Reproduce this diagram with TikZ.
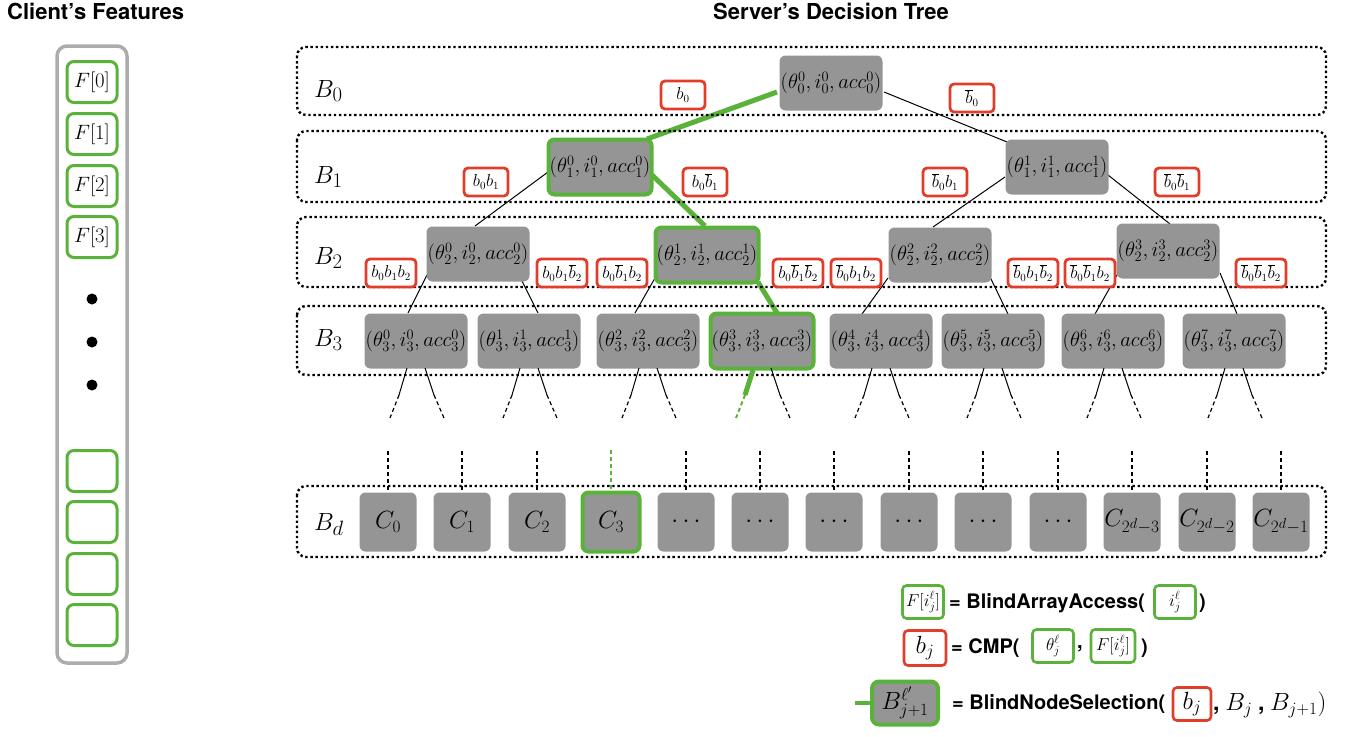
\documentclass[tikz,border=0pt]{standalone}
\usepackage[no-math]{fontspec}
\setmainfont{Liberation Serif}
\newfontfamily\hel{TeX Gyre Heros}
\usetikzlibrary{calc,backgrounds}
\definecolor{grn}{RGB}{91,178,59}
\definecolor{rd}{RGB}{224,62,42}
\definecolor{ngray}{RGB}{149,149,149}
\definecolor{cgray}{RGB}{172,172,172}
\newcommand{\fsz}[1]{\fontsize{#1}{#1}\selectfont}
\begin{document}
\begin{tikzpicture}[x=1pt,y=-1pt,
  tn/.style={fill=ngray, rounded corners=6, minimum width=103, minimum height=55, inner sep=0pt, font=\fsz{21.5}},
  sel/.style={draw=grn, line width=4pt},
  lab/.style={draw=rd, line width=2.8pt, fill=white, rounded corners=4, minimum width=44, minimum height=28, inner sep=1pt, font=\fsz{16}},
  labw/.style={lab, minimum width=50},
  band/.style={line width=2.4pt, dash pattern=on 2.4pt off 2.7pt, rounded corners=9},
  gpath/.style={draw=grn, line width=5pt},
  tline/.style={line width=1pt},
  dsh/.style={dash pattern=on 4pt off 3pt, line width=1.2pt},
  cn/.style={fill=ngray, rounded corners=6, minimum width=57, minimum height=59, inner sep=0pt, font=\fsz{27}},
  fbox/.style={draw=grn, line width=3pt, rounded corners=7, minimum width=50, minimum height=41, inner sep=0pt, font=\fsz{21}, fill=white},
  lbl/.style={anchor=base west, inner sep=0pt, font=\fsz{29}},
  ttl/.style={font=\hel\bfseries\fsz{22}, inner sep=0pt},
  leg/.style={font=\hel\bfseries\fsz{20}, anchor=west, inner sep=0pt},
  lgb/.style={draw=grn, line width=2.6pt, rounded corners=4, minimum width=41, minimum height=33, inner sep=0pt, font=\fsz{17.5}},
  lrb/.style={draw=rd, line width=2.6pt, rounded corners=4, minimum width=42, minimum height=35, inner sep=0pt, font=\fsz{23}},
  dotn/.style={circle, fill=black, minimum size=11, inner sep=0pt}
]
\useasboundingbox (0,0) rectangle (1346,736);

% titles
\node[ttl, anchor=west] (t1) at (7,11) {Client’s Features};
\node[ttl] (t2) at (831,11) {Server’s Decision Tree};

% client column
\draw[cgray, line width=3.5pt, rounded corners=10] (57,46) rectangle (127,663);
\node[fbox] (F0) at (92,82) {$F[0]$};
\node[fbox] (F1) at (92,134) {$F[1]$};
\node[fbox] (F2) at (92,186) {$F[2]$};
\node[fbox] (F3) at (92,237) {$F[3]$};
\node[dotn] (d1) at (92,299) {};
\node[dotn] (d2) at (92,342) {};
\node[dotn] (d3) at (92,385) {};
\node[fbox] (E0) at (92,471) {};
\node[fbox] (E1) at (92,522) {};
\node[fbox] (E2) at (92,574) {};
\node[fbox] (E3) at (92,625) {};

% bands
\draw[band] (297,47) rectangle (1326,115);
\draw[band] (297,131) rectangle (1326,202);
\draw[band] (297,217) rectangle (1326,287);
\draw[band] (297,306) rectangle (1326,375);
\draw[band] (297,486) rectangle (1326,557);
\node[lbl] (lB0) at (314,97) {$B_0$};
\node[lbl] (lB1) at (314,183) {$B_1$};
\node[lbl] (lB2) at (314,264) {$B_2$};
\node[lbl] (lB3) at (314,346) {$B_3$};
\node[lbl] (lBd) at (314,530) {$B_d$};

% tree nodes
\node[tn] (L0) at (831,83) {$(\theta_0^0, i_0^0, acc_0^0)$};
\node[tn,sel] (L10) at (600,167) {$(\theta_1^0, i_1^0, acc_1^0)$};
\node[tn] (L11) at (1057,167) {$(\theta_1^1, i_1^1, acc_1^1)$};
\node[tn] (L20) at (478,254) {$(\theta_2^0, i_2^0, acc_2^0)$};
\node[tn,sel] (L21) at (707,255) {$(\theta_2^1, i_2^1, acc_2^1)$};
\node[tn] (L22) at (940,255) {$(\theta_2^2, i_2^2, acc_2^2)$};
\node[tn] (L23) at (1168,251) {$(\theta_2^3, i_2^3, acc_2^3)$};
\node[tn] (L30) at (416,341) {$(\theta_3^0, i_3^0, acc_3^0)$};
\node[tn] (L31) at (529,341) {$(\theta_3^1, i_3^1, acc_3^1)$};
\node[tn] (L32) at (648,341) {$(\theta_3^2, i_3^2, acc_3^2)$};
\node[tn,sel] (L33) at (762,341) {$(\theta_3^3, i_3^3, acc_3^3)$};
\node[tn] (L34) at (881,341) {$(\theta_3^4, i_3^4, acc_3^4)$};
\node[tn] (L35) at (993,341) {$(\theta_3^5, i_3^5, acc_3^5)$};
\node[tn] (L36) at (1113,341) {$(\theta_3^6, i_3^6, acc_3^6)$};
\node[tn] (L37) at (1234,341) {$(\theta_3^7, i_3^7, acc_3^7)$};

% red labels
\node[lab] (r0) at (683,95) {$b_0$};
\node[lab] (r1) at (972,98) {$\overline{b}_0$};
\node[lab] (r00) at (486,182) {$b_0b_1$};
\node[lab] (r01) at (705,182) {$b_0\overline{b}_1$};
\node[lab] (r10) at (945,182) {$\overline{b}_0b_1$};
\node[lab] (r11) at (1177,182) {$\overline{b}_0\overline{b}_1$};
\node[labw] (r000) at (391,273) {$b_0b_1b_2$};
\node[labw] (r001) at (562,273) {$b_0b_1\overline{b}_2$};
\node[labw] (r010) at (622,273) {$b_0\overline{b}_1b_2$};
\node[labw] (r011) at (798,273) {$b_0\overline{b}_1\overline{b}_2$};
\node[labw] (r100) at (856,273) {$\overline{b}_0b_1b_2$};
\node[labw] (r101) at (1033,273) {$\overline{b}_0b_1\overline{b}_2$};
\node[labw] (r110) at (1090,273) {$\overline{b}_0\overline{b}_1b_2$};
\node[labw] (r111) at (1261,273) {$\overline{b}_0\overline{b}_1\overline{b}_2$};

% leaves
\node[cn] (C0) at (388,522) {$C_0$};
\node[cn] (C1) at (462,522) {$C_1$};
\node[cn] (C2) at (537,522) {$C_2$};
\node[cn,sel] (C3) at (611,522) {$C_3$};
\node[cn] (C4) at (686,522) {$\cdots$};
\node[cn] (C5) at (760,522) {$\cdots$};
\node[cn] (C6) at (834,522) {$\cdots$};
\node[cn] (C7) at (909,522) {$\cdots$};
\node[cn] (C8) at (983,522) {$\cdots$};
\node[cn] (C9) at (1058,522) {$\cdots$};
\node[cn] (C10) at (1132,522) {$C_{2^d-3}$};
\node[cn] (C11) at (1207,522) {$C_{2^d-2}$};
\node[cn] (C12) at (1281,522) {$C_{2^d-1}$};

\begin{scope}[on background layer]
\draw[gpath] ($(L0)+(-54,9)$) -- ($(L10)+(47,-28)$);
\draw[tline] ($(L0)+(53,9)$) -- ($(L11)+(-50,-25)$);
\draw[tline] ($(L10)+(-52,5)$) -- ($(L20)+(-3,-28)$);
\draw[gpath] ($(L10)+(52,8)$) -- ($(L21)+(-2,-29)$);
\draw[tline] ($(L11)+(-52,10)$) -- ($(L22)+(-7,-28)$);
\draw[tline] ($(L11)+(51,8)$) -- ($(L23)+(2,-27)$);
\draw[tline] ($(L20)+(-51,21)$) -- ($(L30)+(-8,-28)$);
\draw[tline] ($(L20)+(44,27)$) -- ($(L31)+(9,-28)$);
\draw[tline] ($(L21)+(-52,23)$) -- ($(L32)+(-13,-28)$);
\draw[gpath] ($(L21)+(51,27)$) -- ($(L33)+(15,-28)$);
\draw[tline] ($(L22)+(-52,23)$) -- ($(L34)+(-19,-27)$);
\draw[tline] ($(L22)+(50,22)$) -- ($(L35)+(15,-27)$);
\draw[tline] ($(L23)+(-51,24)$) -- ($(L36)+(-18,-27)$);
\draw[tline] ($(L23)+(52,22)$) -- ($(L37)+(3,-27)$);
\end{scope}

% continuation lines below level 3
\foreach \i in {0,1,2,4,5,6,7} {
  \draw[tline] ($(L3\i)+(-9,27)$) -- ($(L3\i)+(-17,54)$);
  \draw[tline,dsh] ($(L3\i)+(-17,54)$) -- ($(L3\i)+(-26,77)$);
}
\foreach \i in {0,...,7} {
  \draw[tline] ($(L3\i)+(9,27)$) -- ($(L3\i)+(18,54)$);
  \draw[tline,dsh] ($(L3\i)+(18,54)$) -- ($(L3\i)+(28,77)$);
}
\draw[gpath] ($(L33)+(-9,29)$) -- ($(L33)+(-17,54)$);
\draw[grn,dsh,line width=2pt] ($(L33)+(-17,54)$) -- ($(L33)+(-26,77)$);

\foreach \k in {0,1,2,4,5,6,7,8,9,10,11,12} {
  \draw[dsh] ($(C\k.north)+(0,-41)$) -- (C\k.north);
}
\draw[dsh,grn,line width=1.6pt] ($(C3.north)+(0,-41)$) -- ($(C3.north)+(0,-2)$);

% legend
\node[lgb] (g1) at (923,602) {$F[i_j^\ell]$};
\node[leg] (e1) at (949,603) {= BlindArrayAccess(};
\node[lgb] (g2) at (1175,602) {$i_j^\ell$};
\node[leg] (e1b) at (1199,603) {)};

\node[lrb] (rb1) at (925,648) {$b_j$};
\node[leg] (e2) at (951,648) {= CMP(};
\node[lgb] (g3) at (1053,646) {$\theta_j^\ell$};
\node[leg] (e2b) at (1077,649) {,};
\node[lgb, minimum width=44] (g4) at (1113,646) {$F[i_j^\ell]$};
\node[leg] (e2c) at (1141,648) {)};

\node[fill=ngray, draw=grn, line width=4pt, rounded corners=7, minimum width=66, minimum height=43, inner sep=0pt, font=\fsz{24}] (LB) at (905,703) {$B_{j+1}^{\ell'}$};
\coordinate (stub) at (855,703);
\draw[grn, line width=4pt] (stub) -- (LB.west);
\node[leg] (e3) at (952,704) {= BlindNodeSelection(};
\node[lrb, minimum width=38, minimum height=33] (rb2) at (1192,704) {$b_j$};
\node[anchor=west, inner sep=0pt, font=\fsz{23}] (e3b) at (1213,705) {{\hel\bfseries ,} $B_j$ {\hel\bfseries ,} $B_{j+1})$};
\end{tikzpicture}
\end{document}
